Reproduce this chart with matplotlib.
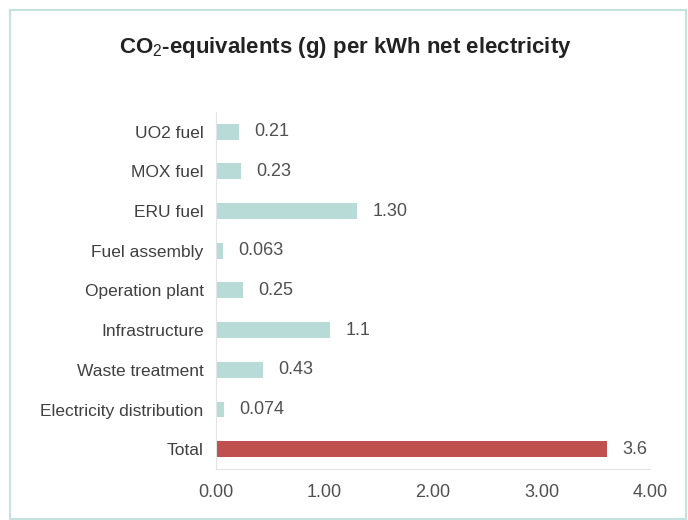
import matplotlib
matplotlib.use("Agg")
import matplotlib.pyplot as plt
from matplotlib.patches import Rectangle

# -------------------------------------------------------
# Données
# -------------------------------------------------------

categories = ["UO2 fuel", "MOX fuel", "ERU fuel", "Fuel assembly",
              "Operation plant", "Infrastructure", "Waste treatment",
              "Electricity distribution", "Total"]
values = [0.21, 0.23, 1.30, 0.063, 0.25, 1.05, 0.43, 0.074, 3.6]
value_labels = ["0.21", "0.23", "1.30", "0.063", "0.25", "1.1", "0.43", "0.074", "3.6"]
xticks = [0, 1, 2, 3, 4]

plt.rcParams["font.family"] = ["Liberation Sans", "DejaVu Sans"]
plt.rcParams["mathtext.fontset"] = "custom"
plt.rcParams["mathtext.rm"] = "Liberation Sans"
plt.rcParams["mathtext.bf"] = "Liberation Sans:bold"

text_color = "#404040"
colors = ["#b9dbd8"] * (len(categories) - 1) + ["#c0504d"]

# -------------------------------------------------------
# Graphique
# -------------------------------------------------------

fig = plt.figure(figsize=(6.88, 5.2), dpi=100)
fig.patches.append(Rectangle((10 / 688, 1 / 520), 676 / 688, 509 / 520,
                             transform=fig.transFigure, fill=False,
                             edgecolor="#c6e2de", linewidth=1.5))

ax = fig.add_axes([0.314, 0.098, 0.631, 0.687])

y = list(range(len(categories)))
ax.barh(y, values, height=0.4, color=colors)

for yi, v, lab in zip(y, values, value_labels):
    ax.annotate(lab, (v, yi), xytext=(11, 0), textcoords="offset points",
                va="center", ha="left", fontsize=13, color="#505050")

ax.set_ylim(len(categories) - 0.5, -0.5)
ax.set_xlim(0, 4)
ax.set_yticks(y)
ax.set_yticklabels(categories, fontsize=12.5, color=text_color)
ax.set_xticks(xticks)
ax.set_xticklabels([f"{t:.2f}" for t in xticks], fontsize=13, color="#505050")
ax.tick_params(axis="y", length=0, pad=9)
ax.tick_params(axis="x", length=0, pad=11)

for side in ["top", "right"]:
    ax.spines[side].set_visible(False)
for side in ["left", "bottom"]:
    ax.spines[side].set_color("#e3e3e3")

fig.text(0.502, 0.908, r"CO$_2$-equivalents (g) per kWh net electricity",
         ha="center", va="center", fontsize=16, fontweight="bold", color="#222222")

plt.savefig("out.png", dpi=100)
